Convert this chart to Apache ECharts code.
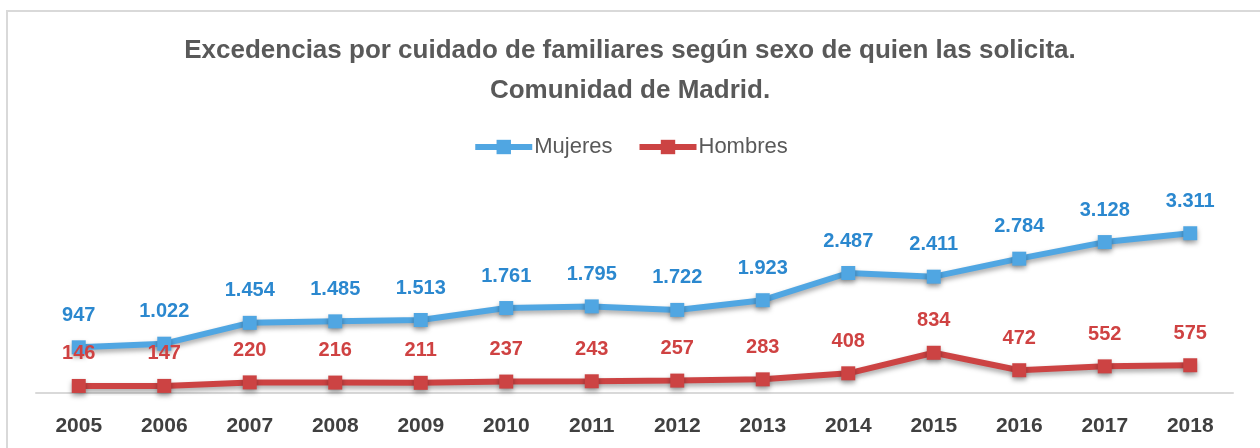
<!DOCTYPE html>
<html>
<head>
<meta charset="utf-8">
<script src="https://cdn.jsdelivr.net/npm/echarts@6/dist/echarts.min.js"></script>
<style>
	html, body { margin: 0; padding: 0; background: #fff; }
	#chart { width: 1260px; height: 448px; }
</style>
</head>
<body>
<div id="chart"></div>
<script>
var years = ['2005', '2006', '2007', '2008', '2009', '2010', '2011', '2012', '2013', '2014', '2015', '2016', '2017', '2018'];
var mujeres = [947, 1022, 1454, 1485, 1513, 1761, 1795, 1722, 1923, 2487, 2411, 2784, 3128, 3311];
var hombres = [146, 147, 220, 216, 211, 237, 243, 257, 283, 408, 834, 472, 552, 575];

// separador de miles con punto
function fmt(v) {
	return String(v).replace(/\B(?=(\d{3})+(?!\d))/g, '.');
}

var chart = echarts.init(document.getElementById('chart'));

function lineSerie(name, data, lineColor, labelColor) {
	return {
		name: name,
		type: 'line',
		data: data,
		symbol: 'rect',
		symbolSize: 14,
		itemStyle: {
			color: lineColor,
			shadowColor: 'rgba(0,0,0,0.35)',
			shadowBlur: 5,
			shadowOffsetY: 3
		},
		lineStyle: {
			color: lineColor,
			width: 6,
			shadowColor: 'rgba(0,0,0,0.35)',
			shadowBlur: 5,
			shadowOffsetY: 3
		},
		label: {
			show: true,
			position: 'top',
			distance: 15,
			color: labelColor,
			fontSize: 20,
			fontWeight: 'bold',
			fontFamily: 'Liberation Sans, Arial',
			formatter: function (p) {
				return fmt(p.value);
			}
		},
		animation: false
	};
}

var titleStyle = {
	color: '#595959',
	fontSize: 26,
	fontWeight: 'bold',
	lineHeight: 26,
	fontFamily: 'Liberation Sans, Arial'
};

var option = {
	backgroundColor: '#fff',
	title: [{
		text: 'Excedencias por cuidado de familiares según sexo de quien las solicita.',
		left: 'center',
		top: 38,
		padding: 0,
		textStyle: titleStyle
	}, {
		text: 'Comunidad de Madrid.',
		left: 'center',
		top: 78,
		padding: 0,
		textStyle: titleStyle
	}],
	legend: {
		top: 131,
		left: 'center',
		itemWidth: 57,
		itemHeight: 18,
		itemGap: 24,
		lineStyle: { width: 6 },
		textStyle: {
			color: '#595959',
			fontSize: 22,
			padding: [0, 0, 0, -3],
			fontFamily: 'Liberation Sans, Arial'
		},
		data: ['Mujeres', 'Hombres']
	},
	grid: {
		left: 36,
		right: 27,
		top: 200,
		bottom: 55
	},
	graphic: [{
		type: 'rect',
		shape: { x: 7, y: 11, width: 1300, height: 500 },
		style: { fill: 'none', stroke: '#d9d9d9', lineWidth: 2 },
		silent: true
	}],
	xAxis: {
		type: 'category',
		data: years,
		boundaryGap: true,
		axisTick: { show: false },
		axisLine: {
			show: true,
			lineStyle: { color: '#d9d9d9', width: 2 }
		},
		axisLabel: {
			color: '#404040',
			fontSize: 21,
			fontWeight: 'bold',
			margin: 23,
			fontFamily: 'Liberation Sans, Arial'
		}
	},
	yAxis: {
		type: 'value',
		min: 0,
		max: 4000,
		show: false,
		splitLine: { show: false }
	},
	series: [
		lineSerie('Mujeres', mujeres, '#50a6e2', '#2b88cf'),
		lineSerie('Hombres', hombres, '#cc4343', '#cf4242')
	]
};
chart.setOption(option);
</script>
</body>
</html>
